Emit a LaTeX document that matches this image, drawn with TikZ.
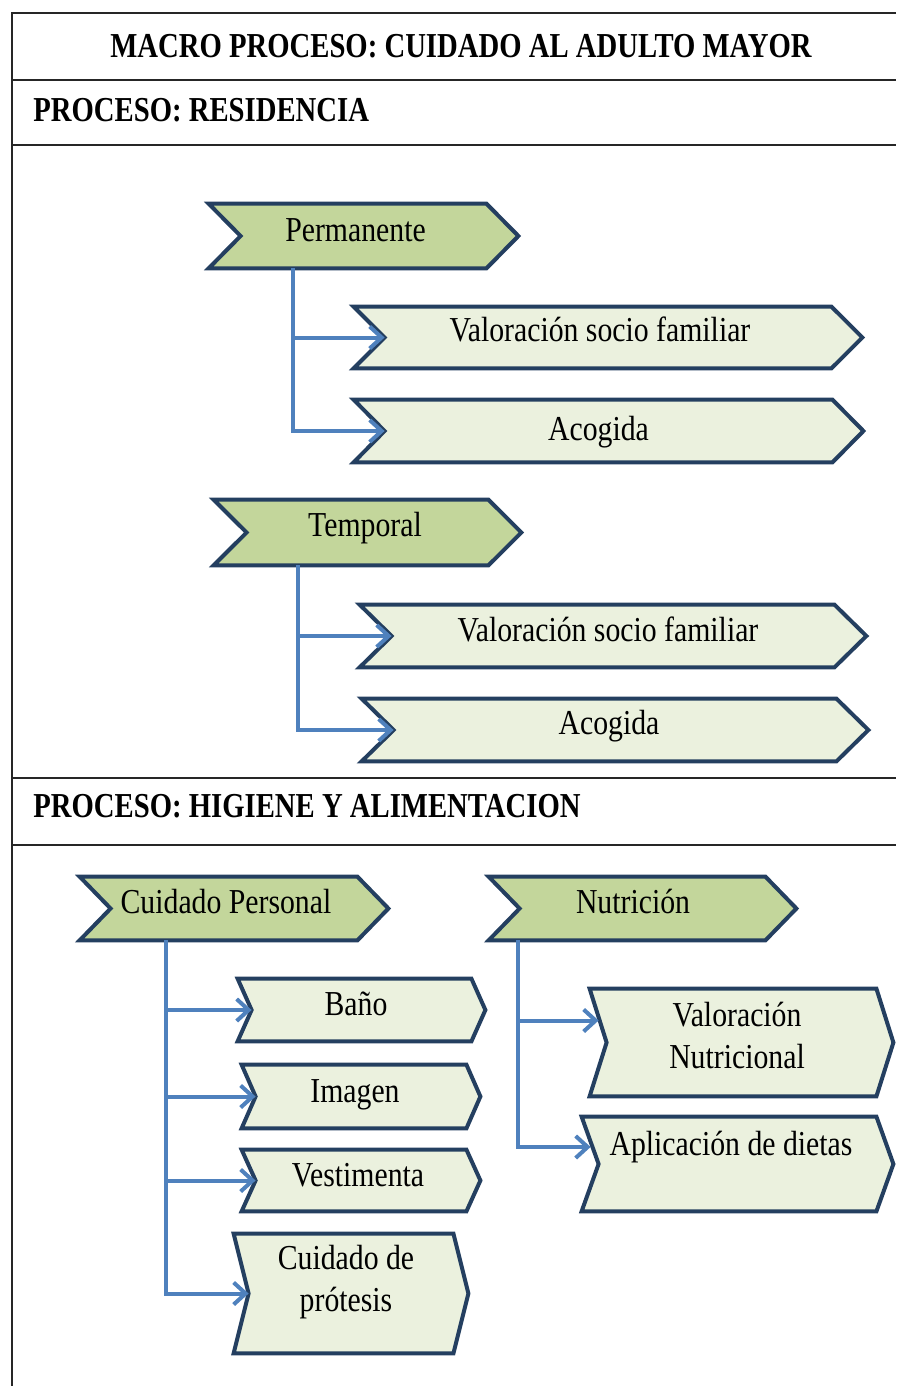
\documentclass[tikz,border=0pt]{standalone}
\usepackage{fontspec}
\setmainfont[FakeStretch=0.85]{Liberation Serif}
\newfontfamily\headfont[FakeStretch=0.82]{Liberation Serif}
\usetikzlibrary{arrows.meta,calc,backgrounds}

\definecolor{chevdark}{HTML}{C3D69B}
\definecolor{chevlight}{HTML}{EBF1DE}
\definecolor{chevedge}{HTML}{243F60}
\definecolor{linkblue}{HTML}{4F81BD}

% shift a label inside its box without changing the box size
\newcommand\tx[3]{\raisebox{#2}[\height][\depth]{\kern#1\relax #3\kern-#1\relax}}
\newcommand\twoline[2]{\begin{tabular}{@{}c@{}}#1\\#2\end{tabular}}
% chevron outline around a node box; #2 = pointer depth, #3 = fill
\newcommand\chevron[3]{%
  \filldraw[chevborder,fill=#3] (#1.north west) -- ($(#1.north east)+(-#2,0)$)
    -- (#1.east) -- ($(#1.south east)+(-#2,0)$) -- (#1.south west)
    -- ($(#1.west)+(#2,0)$) -- cycle;
  \coordinate (#1-in) at ($(#1.west)+(#2,0)$);}

\begin{document}
\begin{tikzpicture}[x=0.5pt,y=-0.5pt,
  frame/.style={line width=1.3pt, draw=black!85},
  head/.style={font=\headfont\bfseries\fontsize{17.5pt}{21pt}\selectfont, inner sep=0pt},
  box/.style={inner sep=0pt, font=\fontsize{17.5pt}{21pt}\selectfont,
              text height=12pt, text depth=3.8pt},
  multi/.style={text height=, text depth=},
  chevborder/.style={draw=chevedge, line width=2pt, line join=miter},
  link/.style={draw=linkblue, line width=2pt,
               -{Straight Barb[length=6pt,width=11pt,line width=2pt]}}]
\useasboundingbox (0,0) rectangle (896,1386);

% table frame
\draw[frame] (896,13) -- (12,13) -- (12,1386);
\draw[frame] (12,80) -- (896,80);
\draw[frame] (12,145) -- (896,145);
\draw[frame] (12,778) -- (896,778);
\draw[frame] (12,845) -- (896,845);

% headings
\node[head] (title) at (461,46) {MACRO PROCESO: CUIDADO AL ADULTO MAYOR};
\node[head,anchor=west] (sec1) at (33,110) {PROCESO: RESIDENCIA};
\node[head,anchor=west] (sec2) at (33,806) {PROCESO: HIGIENE Y ALIMENTACION};

% residencia
\node[box,minimum width=154.5pt,minimum height=32pt] (perm) at (363.5,236) {\tx{-4pt}{1.5pt}{Permanente}};
\node[box,minimum width=254pt,minimum height=30.5pt] (vs1) at (608,337.5) {\tx{-4pt}{2.25pt}{Valoración socio familiar}};
\node[box,minimum width=254.5pt,minimum height=31pt] (ac1) at (608.5,431) {\tx{-5pt}{-0.5pt}{Acogida}};
\node[box,minimum width=153.5pt,minimum height=32.5pt] (temp) at (367.5,532.5) {\tx{-1.25pt}{2.25pt}{Temporal}};
\node[box,minimum width=253pt,minimum height=31pt] (vs2) at (613,636) {\tx{-2.5pt}{1.5pt}{Valoración socio familiar}};
\node[box,minimum width=253pt,minimum height=31pt] (ac2) at (615,730) {\tx{-3pt}{2pt}{Acogida}};

% higiene y alimentacion
\node[box,minimum width=154pt,minimum height=31.5pt] (cp) at (234,908.5) {\tx{-4pt}{1.75pt}{Cuidado Personal}};
\node[box,minimum width=153.5pt,minimum height=31.5pt] (nut) at (642.5,908.5) {\tx{-4.75pt}{1.75pt}{Nutrición}};
\node[box,minimum width=123.5pt,minimum height=31pt] (bano) at (361.5,1010) {\tx{-2.75pt}{1.5pt}{Baño}};
\node[box,minimum width=119pt,minimum height=31.5pt] (img) at (361,1096.5) {\tx{-3pt}{1.25pt}{Imagen}};
\node[box,minimum width=119pt,minimum height=30.5pt] (vest) at (361,1180.5) {\tx{-1.5pt}{1.25pt}{Vestimenta}};
\node[box,multi,minimum width=117pt,minimum height=59.5pt] (prot) at (351,1293.5) {\tx{-2.5pt}{5.75pt}{\twoline{Cuidado de}{prótesis}}};
\node[box,multi,minimum width=151.5pt,minimum height=53.5pt] (valnut) at (741.5,1042.5) {\tx{-2.25pt}{1.75pt}{\twoline{Valoración}{Nutricional}}};
\node[box,minimum width=155.5pt,minimum height=47pt] (dietas) at (737.5,1164) {\tx{-3.25pt}{8.5pt}{Aplicación de dietas}};

\begin{scope}[on background layer]
  \chevron{perm}{32}{chevdark}
  \chevron{temp}{33}{chevdark}
  \chevron{cp}{31}{chevdark}
  \chevron{nut}{31}{chevdark}
  \chevron{vs1}{31}{chevlight}
  \chevron{ac1}{31}{chevlight}
  \chevron{vs2}{32}{chevlight}
  \chevron{ac2}{32}{chevlight}
  \chevron{bano}{14}{chevlight}
  \chevron{img}{14}{chevlight}
  \chevron{vest}{14}{chevlight}
  \chevron{prot}{15}{chevlight}
  \chevron{valnut}{17}{chevlight}
  \chevron{dietas}{17}{chevlight}
\end{scope}

% trunk lines
\coordinate (t1) at (293,0);
\coordinate (t2) at (298,0);
\coordinate (t3) at (166,0);
\coordinate (t4) at (518,0);

\draw[link] (perm.south -| t1) |- (vs1-in);
\draw[link] (perm.south -| t1) |- (ac1-in);
\draw[link] (temp.south -| t2) |- (vs2-in);
\draw[link] (temp.south -| t2) |- (ac2-in);
\draw[link] (cp.south -| t3) |- (bano-in);
\draw[link] (cp.south -| t3) |- (img-in);
\draw[link] (cp.south -| t3) |- (vest-in);
\draw[link] (cp.south -| t3) |- (prot-in);
\draw[link] (nut.south -| t4) |- ($(valnut.west)+(9,-22)$);
\draw[link] (nut.south -| t4) |- ($(dietas.west)+(9,-17)$);
\end{tikzpicture}
\end{document}
